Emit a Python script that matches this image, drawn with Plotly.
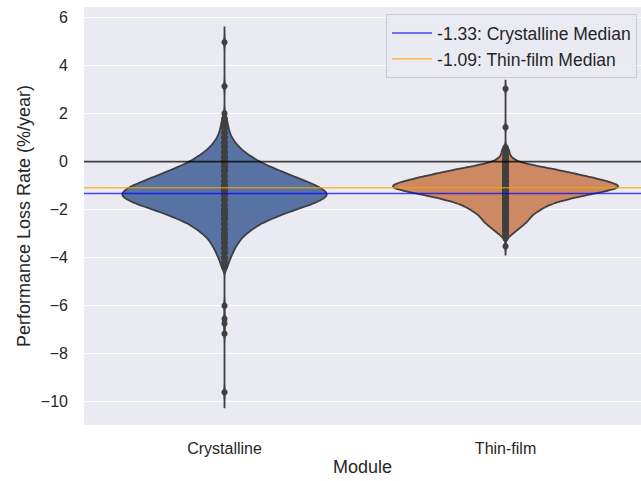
import numpy as np
import plotly.graph_objects as go

# ---- data -------------------------------------------------------------
categories = ["Crystalline", "Thin-film"]

# Crystalline performance loss rates (%/year): value -> number of systems
crystalline_rates = [2.0, 1.8, 1.6, 1.4, 1.2, 1.0, 0.8, 0.6, 0.4, 0.2, 0.0,
                     -0.2, -0.4, -0.6, -0.8, -1.0, -1.2, -1.4, -1.6, -1.8, -2.0,
                     -2.2, -2.4, -2.6, -2.8, -3.0, -3.2, -3.4, -3.6, -3.8, -4.0,
                     -4.2, -4.4]
crystalline_counts = [1, 2, 3, 4, 5, 7, 10, 14, 19, 26, 33,
                      43, 54, 65, 77, 88, 96, 100, 93, 82, 68,
                      55, 44, 34, 27, 21, 16, 13, 10, 8, 6,
                      4, 3]
crystalline_outliers = [4.97, 3.14, -6.0, -6.54, -6.74, -7.17, -9.61]

# Thin-film performance loss rates (%/year): value -> number of systems
thinfilm_rates = [0.6, 0.5, 0.4, 0.3, 0.2, 0.1, 0.0, -0.1, -0.2, -0.3,
                  -0.4, -0.5, -0.6, -0.7, -0.8, -0.9, -1.0, -1.1, -1.2, -1.3,
                  -1.4, -1.5, -1.6, -1.7, -1.8, -1.9, -2.0, -2.1, -2.2, -2.3,
                  -2.4, -2.5, -2.6, -2.7, -2.8, -2.9, -3.0, -3.1, -3.2]
thinfilm_counts = [1, 2, 2, 2, 3, 4, 6, 11, 17, 24,
                   30, 35, 41, 46, 51, 55, 59, 58, 53, 47,
                   41, 35, 30, 26, 22, 20, 18, 16, 14, 13,
                   12, 11, 10, 8, 7, 5, 4, 2, 1]
thinfilm_outliers = [3.03, 1.43, -3.53]

crystalline_median = -1.33
thinfilm_median = -1.09

# ---- styling ----------------------------------------------------------
FONT = "Liberation Sans, Arial, sans-serif"
TEXT = "#262626"
BG = "#EAEAF2"
OUTLINE = "#3f3f3f"
POINTS = "#404040"

crys = np.concatenate([np.repeat(crystalline_rates, crystalline_counts),
                       crystalline_outliers])
thin = np.concatenate([np.repeat(thinfilm_rates, thinfilm_counts),
                       thinfilm_outliers])

fig = go.Figure()

violin_specs = [
    (categories[0], crys, "#5873A3", 0.727, 0.15, 0.66),
    (categories[1], thin, "#CC8963", 0.80, 0.10, 0.34),
]
for name, vals, fill, width, bw, cut in violin_specs:
    fig.add_trace(go.Violin(
        x=[name] * len(vals), y=vals, name=name,
        fillcolor=fill, opacity=1,
        line=dict(color=OUTLINE, width=1.8),
        width=width, scalemode="width",
        bandwidth=bw, spanmode="manual",
        span=[float(vals.min()) - cut, float(vals.max()) + cut],
        points="all", jitter=0, pointpos=0,
        marker=dict(color=POINTS, size=6, line=dict(width=0)),
        box_visible=False, meanline_visible=False,
        showlegend=False, hoverinfo="y",
    ))

# reference lines: zero and the two medians
fig.add_shape(type="line", xref="x domain", x0=0, x1=1, yref="y", y0=0, y1=0,
              line=dict(color="rgba(0,0,0,0.75)", width=1.6), layer="above")
fig.add_shape(type="line", xref="x domain", x0=0, x1=1, yref="y",
              y0=crystalline_median, y1=crystalline_median,
              line=dict(color="rgba(0,0,255,0.7)", width=1.6), layer="above",
              showlegend=True, name=f"{crystalline_median:.2f}: Crystalline Median")
fig.add_shape(type="line", xref="x domain", x0=0, x1=1, yref="y",
              y0=thinfilm_median, y1=thinfilm_median,
              line=dict(color="rgba(255,165,0,0.7)", width=1.6), layer="above",
              showlegend=True, name=f"{thinfilm_median:.2f}: Thin-film Median")

fig.update_layout(
    width=641, height=481,
    margin=dict(l=84, r=0, t=7, b=56),
    paper_bgcolor="white", plot_bgcolor=BG,
    font=dict(family=FONT, color=TEXT, size=16),
    showlegend=True,
    legend=dict(x=0.993, y=0.983, xanchor="right", yanchor="top",
                bgcolor="rgba(234,234,242,0.85)", bordercolor="#cccccc",
                borderwidth=1, font=dict(size=17.5, color=TEXT),
                itemwidth=40),
    xaxis=dict(type="category", categoryarray=categories,
               range=[-0.5, 1.482], showgrid=False, zeroline=False,
               showline=False, ticks="", ticklabelstandoff=12,
               tickfont=dict(size=16, color=TEXT),
               title=dict(text="Module", font=dict(size=18, color=TEXT),
                          standoff=4)),
    yaxis=dict(range=[-10.97, 6.44], tickvals=[6, 4, 2, 0, -2, -4, -6, -8, -10],
               showgrid=True, gridcolor="white", gridwidth=1.3,
               zeroline=False, showline=False, ticks="",
               ticklabelstandoff=15, tickfont=dict(size=16, color=TEXT),
               title=dict(text="Performance Loss Rate (%/year)",
                          font=dict(size=18, color=TEXT), standoff=5)),
)

fig.write_html("out.html")
